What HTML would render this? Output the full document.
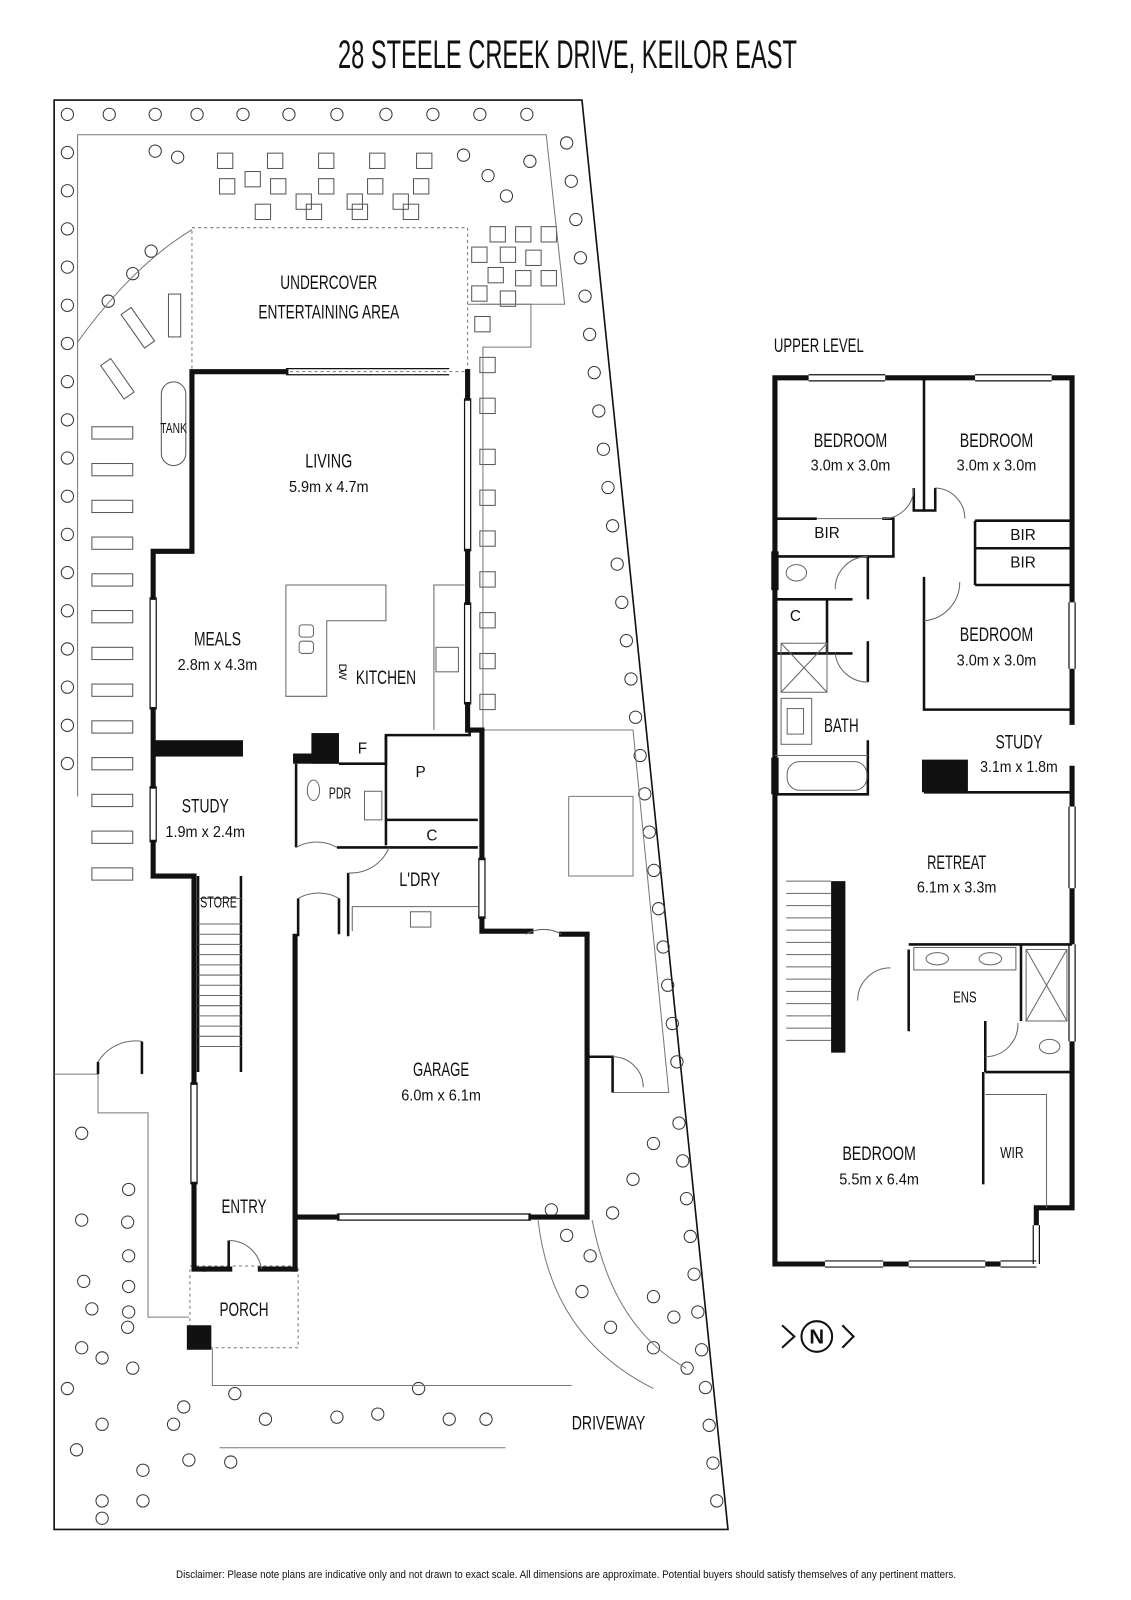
<!DOCTYPE html>
<html><head><meta charset="utf-8"><style>
html,body{margin:0;padding:0;background:#fff;overflow:hidden}
svg{display:block}
text{font-family:"Liberation Sans",sans-serif;fill:#111}
.l{font-size:19px}
.s{font-size:15px}
</style></head><body>
<svg id="s" width="1131" height="1600" viewBox="0 0 1131 1600" xmlns="http://www.w3.org/2000/svg">
<text x="338" y="68" font-size="40" textLength="459" lengthAdjust="spacingAndGlyphs">28 STEELE CREEK DRIVE, KEILOR EAST</text>
<text x="176" y="1578" font-size="11" textLength="780" lengthAdjust="spacingAndGlyphs">Disclaimer: Please note plans are indicative only and not drawn to exact scale. All dimensions are approximate. Potential buyers should satisfy themselves of any pertinent matters.</text>
<g transform="scale(1.021)">
<!-- site boundary -->
<polygon points="53,98 570,98 713,1498 53,1498" fill="none" stroke="#111" stroke-width="1.6"/>
<g id="trees" fill="none" stroke="#333" stroke-width="1"></g>
<g id="pav" fill="none" stroke="#555" stroke-width="1"></g>

<g fill="none" stroke="#777" stroke-width="1">
<polyline points="76,780 76,132 535,132 553,298 470,298"/>
<path d="M76,335 Q130,260 188,225"/>
<rect x="188" y="223" width="270" height="141" stroke-dasharray="3,3"/>
<polyline points="458,298 520,298 520,340 473,340 473,715 620,715 655,1070 600,1070"/>
<polyline points="600,1070 600,1045"/>
<polyline points="557,780 620,780 620,858 557,858 557,780"/>
<polyline points="53,1052 96,1052 96,1090 145,1090 145,1290 185,1290"/>
<polyline points="208,1320 208,1357 560,1357"/>
<path d="M215,1418 L495,1418"/>
<path d="M527,1195 Q540,1310 640,1360"/>
<path d="M580,1195 Q600,1300 672,1340"/>
<rect x="186" y="1240" width="106" height="80" stroke-dasharray="3,3"/>
</g>
<g fill="none" stroke="#555" stroke-width="1">
<rect x="158" y="374" width="24" height="82" rx="12"/>
</g>
<text x="170" y="424" text-anchor="middle" font-size="14" textLength="26" lengthAdjust="spacingAndGlyphs">TANK</text>

<g fill="none" stroke="#111" stroke-width="5" stroke-linecap="square">
<polyline points="280,364 188,364 188,540 150,540 150,585"/>
<polyline points="150,695 150,770"/>
<polyline points="150,825 150,858 190,858 190,1060"/>
<polyline points="190,1160 190,1243 200,1243"/>
<polyline points="458,364 458,390"/>
<polyline points="458,540 458,590"/>
<polyline points="458,690 458,715 472,715 472,840"/>
<polyline points="472,900 472,912 520,912"/>
<polyline points="550,915 575,915 575,1192 520,1192"/>
<polyline points="330,1192 289,1192 289,917"/>
<polyline points="289,1243 289,1192"/>
<polyline points="225,1243 200,1243"/>
<polyline points="255,1243 289,1243"/>
</g>
<g stroke="#111" stroke-width="1.2" fill="none">
<line x1="280" y1="361" x2="440" y2="361"/><line x1="280" y1="367" x2="440" y2="367"/>
<line x1="455" y1="390" x2="455" y2="540"/><line x1="461" y1="390" x2="461" y2="540"/>
<line x1="455" y1="590" x2="455" y2="690"/><line x1="461" y1="590" x2="461" y2="690"/>
<line x1="147" y1="585" x2="147" y2="695"/><line x1="153" y1="585" x2="153" y2="695"/>
<line x1="147" y1="770" x2="147" y2="825"/><line x1="153" y1="770" x2="153" y2="825"/>
<line x1="187" y1="1060" x2="187" y2="1160"/><line x1="193" y1="1060" x2="193" y2="1160"/>
<line x1="469" y1="840" x2="469" y2="900"/><line x1="475" y1="840" x2="475" y2="900"/>
<line x1="330" y1="1189" x2="520" y2="1189"/><line x1="330" y1="1195" x2="520" y2="1195"/>
</g>
<rect x="150" y="725" width="88" height="16" fill="#111"/>
<rect x="305" y="718" width="27" height="30" fill="#111"/>
<rect x="287" y="738" width="45" height="10" fill="#111"/>
<rect x="183" y="1298" width="24" height="24" fill="#111"/>
<g fill="none" stroke="#111" stroke-width="2.5">
<polyline points="290,748 290,830"/>
<polyline points="332,748 378,748 378,720 460,720 460,715"/>
<polyline points="378,720 378,828"/>
<polyline points="378,803 468,803"/>
<polyline points="330,830 468,830"/>
<polyline points="341,855 341,917"/>
<polyline points="292,880 292,917"/>
<polyline points="332,880 332,915"/>
<polyline points="194,858 194,1050"/>
<polyline points="236,858 236,1050"/>
<polyline points="224,1243 224,1215"/>
<polyline points="575,1035 600,1035 600,1070"/>
<polyline points="96,1052 96,1040"/>
<polyline points="139,1052 139,1020"/>
</g>
<g fill="none" stroke="#666" stroke-width="1">
<polyline points="280,573 378,573 378,608 320,608 320,682 280,682 280,573"/>
<rect x="293" y="612" width="14" height="12" rx="3"/><rect x="293" y="628" width="14" height="12" rx="3"/>
<polyline points="425,715 425,573 455,573"/>
<rect x="427" y="634" width="22" height="24"/>
<polyline points="345,912 345,888 470,888"/>
<rect x="402" y="893" width="20" height="15"/>
<rect x="357" y="775" width="17" height="28"/>
<ellipse cx="307" cy="774" rx="6" ry="10"/>
<path d="M290,830 A40,40 0 0 1 330,830"/>
<path d="M341,855 A40,40 0 0 0 381,830"/>
<path d="M292,880 A40,40 0 0 1 332,880"/>
<path d="M515,915 A35,35 0 0 1 550,915"/>
<path d="M224,1215 A32,32 0 0 1 256,1243"/>
<path d="M600,1035 A30,30 0 0 1 630,1065"/>
<path d="M96,1040 A43,43 0 0 1 139,1020"/>
<line x1="194" y1="880" x2="236" y2="880"/>
</g>
<g stroke="#666" stroke-width="1">
<line x1="194" y1="905" x2="236" y2="905"/><line x1="194" y1="915" x2="236" y2="915"/><line x1="194" y1="925" x2="236" y2="925"/><line x1="194" y1="935" x2="236" y2="935"/><line x1="194" y1="945" x2="236" y2="945"/><line x1="194" y1="955" x2="236" y2="955"/><line x1="194" y1="965" x2="236" y2="965"/><line x1="194" y1="975" x2="236" y2="975"/><line x1="194" y1="985" x2="236" y2="985"/><line x1="194" y1="995" x2="236" y2="995"/><line x1="194" y1="1005" x2="236" y2="1005"/><line x1="194" y1="1015" x2="236" y2="1015"/><line x1="194" y1="1025" x2="236" y2="1025"/>
</g>

<text class="l" x="322" y="283" text-anchor="middle" textLength="95" lengthAdjust="spacingAndGlyphs">UNDERCOVER</text>
<text class="l" x="322" y="312" text-anchor="middle" textLength="138" lengthAdjust="spacingAndGlyphs">ENTERTAINING AREA</text>
<text class="l" x="322" y="458" text-anchor="middle" textLength="46" lengthAdjust="spacingAndGlyphs">LIVING</text>
<text class="s" x="322" y="482" text-anchor="middle" textLength="78" lengthAdjust="spacingAndGlyphs">5.9m x 4.7m</text>
<text class="l" x="213" y="632" text-anchor="middle" textLength="46" lengthAdjust="spacingAndGlyphs">MEALS</text>
<text class="s" x="213" y="656" text-anchor="middle" textLength="78" lengthAdjust="spacingAndGlyphs">2.8m x 4.3m</text>
<text class="l" x="378" y="670" text-anchor="middle" textLength="59" lengthAdjust="spacingAndGlyphs">KITCHEN</text>
<text x="330" y="648" font-size="11" transform="rotate(90 330 650)" textLength="16">DW</text>
<text class="s" x="355" y="738" text-anchor="middle">F</text>
<text class="s" x="412" y="761" text-anchor="middle">P</text>
<text class="s" x="333" y="782" text-anchor="middle" textLength="22" lengthAdjust="spacingAndGlyphs">PDR</text>
<text class="s" x="423" y="823" text-anchor="middle">C</text>
<text class="l" x="411" y="868" text-anchor="middle" textLength="40" lengthAdjust="spacingAndGlyphs">L'DRY</text>
<text class="l" x="201" y="796" text-anchor="middle" textLength="46" lengthAdjust="spacingAndGlyphs">STUDY</text>
<text class="s" x="201" y="820" text-anchor="middle" textLength="78" lengthAdjust="spacingAndGlyphs">1.9m x 2.4m</text>
<text class="s" x="214" y="889" text-anchor="middle" textLength="36" lengthAdjust="spacingAndGlyphs">STORE</text>
<text class="l" x="432" y="1054" text-anchor="middle" textLength="55" lengthAdjust="spacingAndGlyphs">GARAGE</text>
<text class="s" x="432" y="1078" text-anchor="middle" textLength="78" lengthAdjust="spacingAndGlyphs">6.0m x 6.1m</text>
<text class="l" x="239" y="1188" text-anchor="middle" textLength="44" lengthAdjust="spacingAndGlyphs">ENTRY</text>
<text class="l" x="239" y="1289" text-anchor="middle" textLength="48" lengthAdjust="spacingAndGlyphs">PORCH</text>
<text class="l" x="596" y="1400" text-anchor="middle" textLength="72" lengthAdjust="spacingAndGlyphs">DRIVEWAY</text>

<!-- upper level -->
<text class="l" x="758" y="345" textLength="88" lengthAdjust="spacingAndGlyphs">UPPER LEVEL</text>
<g fill="none" stroke="#111" stroke-width="5">
<polyline points="792,370 759,370 759,1238 808,1238"/>
<polyline points="867,370 955,370"/>
<polyline points="1030,370 1050,370 1050,590"/>
<polyline points="1050,655 1050,710"/>
<polyline points="1050,750 1050,790"/>
<polyline points="1050,870 1050,925"/>
<polyline points="1050,1020 1050,1183 1015,1183 1015,1200"/>
<polyline points="865,1238 890,1238"/>
<polyline points="965,1238 980,1238"/>
</g>
<g stroke="#111" stroke-width="1.2" fill="none">
<line x1="792" y1="367" x2="867" y2="367"/><line x1="792" y1="373" x2="867" y2="373"/>
<line x1="955" y1="367" x2="1030" y2="367"/><line x1="955" y1="373" x2="1030" y2="373"/>
<line x1="1047" y1="590" x2="1047" y2="655"/><line x1="1053" y1="590" x2="1053" y2="655"/>
<line x1="1047" y1="790" x2="1047" y2="870"/><line x1="1053" y1="790" x2="1053" y2="870"/>
<line x1="808" y1="1235" x2="865" y2="1235"/><line x1="808" y1="1241" x2="865" y2="1241"/>
<line x1="890" y1="1235" x2="965" y2="1235"/><line x1="890" y1="1241" x2="965" y2="1241"/>
<line x1="980" y1="1235" x2="1015" y2="1235"/><line x1="980" y1="1241" x2="1015" y2="1241"/>
<line x1="1012" y1="1200" x2="1012" y2="1238"/><line x1="1018" y1="1200" x2="1018" y2="1238"/>
<line x1="756" y1="540" x2="756" y2="578"/><line x1="762" y1="540" x2="762" y2="578"/>
<line x1="756" y1="742" x2="756" y2="778"/><line x1="762" y1="742" x2="762" y2="778"/>
<line x1="1047" y1="925" x2="1047" y2="1020"/><line x1="1053" y1="925" x2="1053" y2="1020"/>
</g>
<g fill="none" stroke="#111" stroke-width="2.5">
<polyline points="905,370 905,500 916,500 916,478"/>
<polyline points="895,478 895,500 905,500"/>
<polyline points="759,508 800,508"/><polyline points="864,508 875,508 875,545 759,545"/>
<polyline points="759,587 835,587"/><polyline points="850,545 850,587"/>
<polyline points="810,587 810,640"/>
<polyline points="759,640 835,640"/><polyline points="850,628 850,668"/>
<polyline points="955,510 1050,510"/><polyline points="955,510 955,573"/>
<polyline points="955,537 1050,537"/><polyline points="955,573 1050,573"/>
<polyline points="905,565 905,695 1050,695"/>
<polyline points="905,776 1050,776"/>
<polyline points="890,930 890,1010"/><polyline points="890,925 1050,925"/>
<polyline points="1000,925 1000,1000"/><polyline points="965,1000 965,1050"/>
<polyline points="965,1050 1050,1050"/>
<polyline points="963,1050 963,1160"/>
<polyline points="759,778 850,778 850,725"/>
</g>
<rect x="814" y="863" width="14" height="168" fill="#111"/>
<rect x="903" y="744" width="45" height="32" fill="#111"/>
<g fill="none" stroke="#666" stroke-width="1">
<line x1="800" y1="508" x2="864" y2="508"/>
<path d="M864,508 A30,30 0 0 0 895,478"/>
<path d="M916,478 A30,30 0 0 1 945,508"/>
<path d="M850,545 A32,32 0 0 0 818,577"/>
<path d="M850,668 A32,32 0 0 1 818,640"/>
<path d="M905,608 A38,38 0 0 0 940,570"/>
<path d="M840,980 A32,32 0 0 1 872,948"/>
<path d="M965,1035 A32,32 0 0 0 997,1002"/>
<rect x="765" y="630" width="45" height="48"/><line x1="765" y1="630" x2="810" y2="678"/><line x1="810" y1="630" x2="765" y2="678"/>
<rect x="765" y="684" width="30" height="45"/><rect x="771" y="694" width="16" height="25"/>
<line x1="759" y1="740" x2="850" y2="740"/>
<rect x="771" y="746" width="78" height="28" rx="12"/>
<ellipse cx="780" cy="561" rx="10" ry="8"/>
<ellipse cx="1028" cy="1025" rx="10" ry="7"/>
<rect x="1005" y="930" width="40" height="70"/><line x1="1005" y1="930" x2="1045" y2="1000"/><line x1="1045" y1="930" x2="1005" y2="1000"/>
<rect x="895" y="928" width="100" height="22"/>
<ellipse cx="918" cy="939" rx="11" ry="6"/><ellipse cx="970" cy="939" rx="11" ry="6"/>
<polyline points="965,1072 1025,1072 1025,1183"/>
<line x1="770" y1="863" x2="814" y2="863"/>
</g>
<g stroke="#666" stroke-width="1">
<line x1="770" y1="875" x2="814" y2="875"/><line x1="770" y1="887" x2="814" y2="887"/><line x1="770" y1="899" x2="814" y2="899"/><line x1="770" y1="911" x2="814" y2="911"/><line x1="770" y1="923" x2="814" y2="923"/><line x1="770" y1="935" x2="814" y2="935"/><line x1="770" y1="947" x2="814" y2="947"/><line x1="770" y1="959" x2="814" y2="959"/><line x1="770" y1="971" x2="814" y2="971"/><line x1="770" y1="983" x2="814" y2="983"/><line x1="770" y1="995" x2="814" y2="995"/><line x1="770" y1="1007" x2="814" y2="1007"/><line x1="770" y1="1019" x2="814" y2="1019"/>
</g>
<text class="l" x="833" y="438" text-anchor="middle" textLength="72" lengthAdjust="spacingAndGlyphs">BEDROOM</text>
<text class="s" x="833" y="461" text-anchor="middle" textLength="78" lengthAdjust="spacingAndGlyphs">3.0m x 3.0m</text>
<text class="l" x="976" y="438" text-anchor="middle" textLength="72" lengthAdjust="spacingAndGlyphs">BEDROOM</text>
<text class="s" x="976" y="461" text-anchor="middle" textLength="78" lengthAdjust="spacingAndGlyphs">3.0m x 3.0m</text>
<text class="s" x="810" y="527" text-anchor="middle">BIR</text>
<text class="s" x="1002" y="529" text-anchor="middle">BIR</text>
<text class="s" x="1002" y="556" text-anchor="middle">BIR</text>
<text class="s" x="779" y="608" text-anchor="middle">C</text>
<text class="l" x="976" y="628" text-anchor="middle" textLength="72" lengthAdjust="spacingAndGlyphs">BEDROOM</text>
<text class="s" x="976" y="652" text-anchor="middle" textLength="78" lengthAdjust="spacingAndGlyphs">3.0m x 3.0m</text>
<text class="l" x="824" y="717" text-anchor="middle" textLength="34" lengthAdjust="spacingAndGlyphs">BATH</text>
<text class="l" x="998" y="733" text-anchor="middle" textLength="46" lengthAdjust="spacingAndGlyphs">STUDY</text>
<text class="s" x="998" y="756" text-anchor="middle" textLength="76" lengthAdjust="spacingAndGlyphs">3.1m x 1.8m</text>
<text class="l" x="937" y="851" text-anchor="middle" textLength="58" lengthAdjust="spacingAndGlyphs">RETREAT</text>
<text class="s" x="937" y="874" text-anchor="middle" textLength="78" lengthAdjust="spacingAndGlyphs">6.1m x 3.3m</text>
<text class="s" x="945" y="982" text-anchor="middle" textLength="23" lengthAdjust="spacingAndGlyphs">ENS</text>
<text class="s" x="991" y="1134" text-anchor="middle" textLength="23" lengthAdjust="spacingAndGlyphs">WIR</text>
<text class="l" x="861" y="1136" text-anchor="middle" textLength="72" lengthAdjust="spacingAndGlyphs">BEDROOM</text>
<text class="s" x="861" y="1160" text-anchor="middle" textLength="78" lengthAdjust="spacingAndGlyphs">5.5m x 6.4m</text>

<g fill="none" stroke="#111" stroke-width="2">
<circle cx="800" cy="1309" r="15"/>
<polyline points="766,1298 778,1309 766,1320"/>
<polyline points="825,1298 836,1309 825,1320"/>
</g>
<text x="800" y="1316" text-anchor="middle" font-size="20" font-weight="bold">N</text>
</g>
</svg>
<script>
var ns="http://www.w3.org/2000/svg",t=document.getElementById("trees"),p=document.getElementById("pav");
function c(x,y){var e=document.createElementNS(ns,"circle");e.setAttribute("cx",x);e.setAttribute("cy",y);e.setAttribute("r",6);t.appendChild(e);}
function r(x,y,w,h,a){var e=document.createElementNS(ns,"rect");e.setAttribute("x",x);e.setAttribute("y",y);e.setAttribute("width",w);e.setAttribute("height",h);if(a)e.setAttribute("transform","rotate("+a+" "+(x+w/2)+" "+(y+h/2)+")");p.appendChild(e);}
for(var y=112;y<=785;y+=37.4)c(66,y);
[[107,112],[152,112],[193,112],[238,112],[283,112],[330,112],[378,112],[424,112],[470,112],[516,112],[152,148],[174,154],[454,152],[519,158],[478,172],[496,192],[148,246],[130,268],[106,295],[100,1487]].forEach(function(a){c(a[0],a[1]);});
for(var y=140;y<=1045;y+=37.5)c(555+(y-140)*0.12,y);
for(var y=1100;y<=1470;y+=37)c(665+(y-1100)*0.1,y);
[[640,1120],[620,1155],[600,1188],[555,1210],[570,1265],[598,1300],[640,1320],[673,1340],[540,1185],[578,1230],[640,1270],[660,1290],[80,1110],[126,1165],[80,1195],[125,1197],[126,1230],[82,1255],[126,1260],[90,1282],[126,1285],[80,1320],[100,1330],[130,1340],[66,1360],[100,1395],[170,1395],[260,1390],[230,1365],[330,1388],[370,1385],[440,1390],[476,1390],[75,1420],[140,1440],[185,1430],[100,1470],[140,1470],[180,1378],[226,1432],[410,1360],[125,1300]].forEach(function(a){c(a[0],a[1]);});
for(var y=418;y<=850;y+=36)r(90,y,40,12);
r(95,365,40,12,55);r(115,315,40,12,55);r(165,288,12,42);
[[213,150],[262,150],[312,150],[362,150],[408,150],[215,175],[265,175],[312,175],[360,175],[405,175],[240,168],[290,190],[340,190],[385,190],[250,200],[300,200],[345,200],[395,200],[480,222],[505,222],[530,222],[462,242],[490,242],[515,245],[478,262],[505,265],[530,265],[462,280],[490,285],[465,310],[470,350],[470,390],[470,440],[470,480],[470,520],[470,560],[470,600],[470,640],[470,680]].forEach(function(a){r(a[0],a[1],15,15);});
</script>
</body></html>
